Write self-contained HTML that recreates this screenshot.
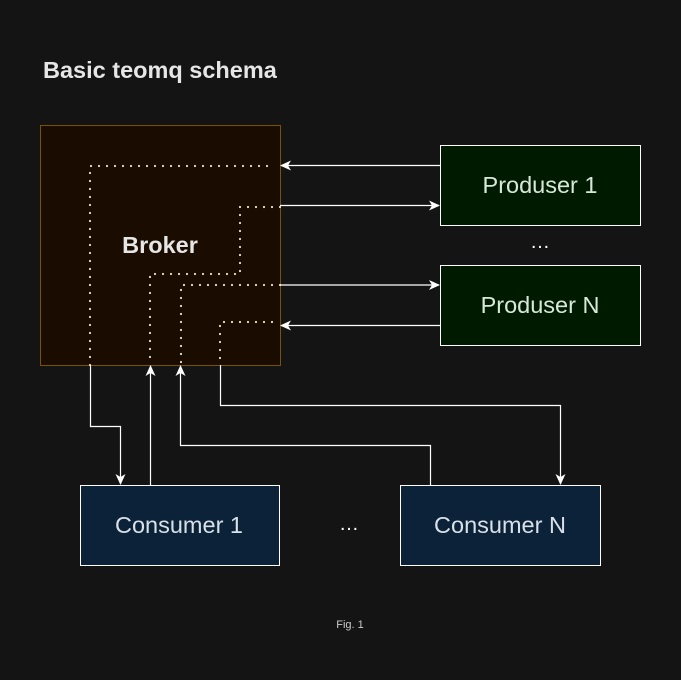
<!DOCTYPE html>
<html><head><style>body{margin:0;background:#141414;}svg{display:block}</style></head><body>
<svg width="681" height="680" xmlns="http://www.w3.org/2000/svg" font-family="Liberation Sans, sans-serif">
<defs><marker id="a" markerWidth="12" markerHeight="12" refX="10" refY="6" orient="auto" markerUnits="userSpaceOnUse"><path d="M0,1 L11,6 L0,11 L3,6 Z" fill="#fff"/></marker></defs>
<rect width="681" height="680" fill="#141414"/>
<text x="43" y="78" font-size="23.5" font-weight="bold" fill="#e6e6e6">Basic teomq schema</text>
<rect x="40.5" y="125.5" width="240" height="240" fill="#1a0d00" stroke="#7a5200"/>
<text x="160" y="253" font-size="23.5" font-weight="bold" fill="#e6e6e6" text-anchor="middle">Broker</text>
<g fill="none" stroke="#e8e0c8" stroke-width="2.2" stroke-dasharray="0 8" stroke-linecap="round">
<path d="M90,365 V166 H272"/>
<path d="M280,207 H240 V274 H150 V365"/>
<path d="M280,285 H181 V365"/>
<path d="M272,322 H220 V365"/>
</g>
<rect x="440.5" y="145.5" width="200" height="80" fill="#001a00" stroke="#fff"/>
<rect x="440.5" y="265.5" width="200" height="80" fill="#001a00" stroke="#fff"/>
<text x="540" y="193" font-size="23.5" fill="#d8e8d8" text-anchor="middle">Produser 1</text>
<text x="540" y="313" font-size="23.5" fill="#d8e8d8" text-anchor="middle">Produser N</text>
<text x="540" y="248" font-size="20" fill="#fff" text-anchor="middle">…</text>
<rect x="80.5" y="485.5" width="199" height="80" fill="#0b2238" stroke="#fff"/>
<rect x="400.5" y="485.5" width="200" height="80" fill="#0b2238" stroke="#fff"/>
<text x="179" y="533" font-size="23.5" fill="#d8e0e8" text-anchor="middle">Consumer 1</text>
<text x="500" y="533" font-size="23.5" fill="#d8e0e8" text-anchor="middle">Consumer N</text>
<text x="349" y="530" font-size="20" fill="#fff" text-anchor="middle">…</text>
<g fill="none" stroke="#fff" stroke-width="1.2" marker-end="url(#a)">
<path d="M440,165.5 H281"/>
<path d="M280,205.5 H439"/>
<path d="M280,285 H439"/>
<path d="M440,325.5 H281"/>
<path d="M90.5,365 V426.5 H120.5 V484"/>
<path d="M150.5,485 V366"/>
<path d="M430.5,485 V445.5 H180.5 V366"/>
<path d="M220.5,365 V405.5 H560.5 V484"/>
</g>
<text x="350" y="628" font-size="11" fill="#ccc" text-anchor="middle">Fig. 1</text>
</svg>
</body></html>
